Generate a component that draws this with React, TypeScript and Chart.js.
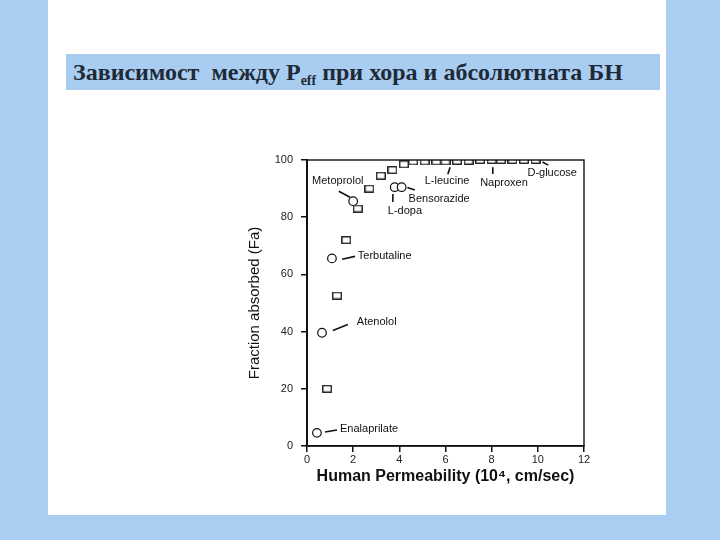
import React, { useEffect, useRef } from "react";
import { Chart, registerables } from "chart.js";

Chart.register(...registerables);

const squareX = [0.87, 1.3, 1.7, 2.2, 2.7, 3.2, 3.7, 4.2, 4.6, 5.1, 5.6, 6.0, 6.5, 7.0, 7.5, 8.0, 8.4, 8.9, 9.4, 9.9];
const squareY = [20, 52.6, 72, 83, 90, 94.5, 96.5, 98.5, 99.5, 99.5, 99.5, 99.5, 99.7, 99.7, 100, 100, 100, 100, 100, 100];
const circleX = [0.43, 0.65, 1.08, 2.0, 3.8, 4.1];
const circleY = [4.6, 39.6, 65.6, 85.6, 90.5, 90.5];

const labelText = ["Metoprolol", "L-leucine", "Naproxen", "D-glucose", "Bensorazide", "L-dopa", "Terbutaline", "Atenolol", "Enalaprilate"];
const labelX = [0.22, 5.1, 7.5, 9.55, 4.4, 3.5, 2.2, 2.16, 1.43];
const labelY = [92.6, 92.6, 91.9, 95.4, 86.3, 82.1, 66.3, 43.2, 6.0];
const leaderX1 = [1.38, 6.2, 8.05, 10.2, 4.35, 3.72, 1.52, 1.12, 0.78];
const leaderY1 = [89.1, 97.5, 97.5, 99.3, 90.4, 88.1, 65.3, 40.4, 4.9];
const leaderX2 = [1.86, 6.1, 8.05, 10.45, 4.67, 3.72, 2.08, 1.77, 1.3];
const leaderY2 = [87.0, 95.0, 95.1, 98.2, 89.5, 85.3, 66.3, 42.5, 5.6];

const xTicks = [0, 2, 4, 6, 8, 10, 12];
const yTicks = [0, 20, 40, 60, 80, 100];

const title = "Зависимост  между P";
const titleSub = "eff";
const titleRest = " при хора и абсолютната БН";
const yTitle = "Fraction absorbed (Fa)";
const xTitle = "Human Permeability (10\u2074, cm/sec)";

function makeSquare(): HTMLCanvasElement {
  const c = document.createElement("canvas");
  c.width = 10;
  c.height = 8;
  const g = c.getContext("2d")!;
  g.fillStyle = "#fff";
  g.fillRect(0, 0, 10, 8);
  g.strokeStyle = "#111";
  g.lineWidth = 1.3;
  g.strokeRect(0.75, 0.75, 8.5, 6.5);
  return c;
}

const annotationPlugin = {
  id: "annots",
  afterDatasetsDraw(chart: any) {
    const { ctx, chartArea, scales } = chart;
    const xs = scales.x;
    const ys = scales.y;
    ctx.save();
    ctx.strokeStyle = "#111";
    ctx.lineWidth = 1.4;
    ctx.strokeRect(chartArea.left, chartArea.top, chartArea.right - chartArea.left, chartArea.bottom - chartArea.top);
    ctx.lineWidth = 1.6;
    for (let i = 0; i < labelText.length; i++) {
      ctx.beginPath();
      ctx.moveTo(xs.getPixelForValue(leaderX1[i]), ys.getPixelForValue(leaderY1[i]));
      ctx.lineTo(xs.getPixelForValue(leaderX2[i]), ys.getPixelForValue(leaderY2[i]));
      ctx.stroke();
    }
    ctx.fillStyle = "#111";
    ctx.font = "11px 'Liberation Sans', Arial, sans-serif";
    ctx.textBaseline = "middle";
    ctx.textAlign = "left";
    for (let i = 0; i < labelText.length; i++) {
      ctx.fillText(labelText[i], xs.getPixelForValue(labelX[i]), ys.getPixelForValue(labelY[i]));
    }
    ctx.restore();
  },
};

export default function App() {
  const ref = useRef<HTMLCanvasElement | null>(null);
  useEffect(() => {
    if (!ref.current) return;
    const sq = makeSquare();
    const chart = new Chart(ref.current, {
      type: "scatter",
      data: {
        datasets: [
          {
            data: squareX.map((x, i) => ({ x, y: squareY[i] })),
            pointStyle: sq as any,
            pointRadius: 5,
            borderColor: "#111",
            backgroundColor: "#fff",
          },
          {
            data: circleX.map((x, i) => ({ x, y: circleY[i] })),
            pointStyle: "circle",
            pointRadius: 4.3,
            borderWidth: 1.2,
            borderColor: "#111",
            backgroundColor: "#fff",
          },
        ],
      },
      options: {
        animation: false,
        responsive: false,
        events: [],
        layout: { padding: { left: 230, right: 136, top: 160, bottom: 40 } },
        plugins: { legend: { display: false }, tooltip: { enabled: false } },
        scales: {
          x: {
            type: "linear",
            min: 0,
            max: 12,
            afterFit(scale: any) {
              scale.height = 54;
            },
            afterBuildTicks(scale: any) {
              scale.ticks = xTicks.map((v) => ({ value: v }));
            },
            grid: { drawOnChartArea: false, drawTicks: true, tickLength: 6, color: "#111", lineWidth: 1.5 },
            border: { color: "#111", width: 1.5 },
            ticks: { color: "#222", font: { family: "'Liberation Sans', Arial, sans-serif", size: 11 }, padding: 1, maxRotation: 0 },
            title: {
              display: true,
              text: xTitle,
              color: "#111",
              font: { family: "'Liberation Sans', Arial, sans-serif", size: 16, weight: "bold" },
              padding: { top: 0, bottom: 14 },
            },
          },
          y: {
            type: "linear",
            min: 0,
            max: 100,
            afterFit(scale: any) {
              scale.width = 77;
            },
            afterBuildTicks(scale: any) {
              scale.ticks = yTicks.map((v) => ({ value: v }));
            },
            grid: { drawOnChartArea: false, drawTicks: true, tickLength: 6, color: "#111", lineWidth: 1.5 },
            border: { color: "#111", width: 2 },
            ticks: { color: "#222", font: { family: "'Liberation Sans', Arial, sans-serif", size: 11 }, padding: 8 },
            title: {
              display: true,
              text: yTitle,
              color: "#111",
              font: { family: "'Liberation Sans', Arial, sans-serif", size: 15 },
              padding: { top: 16, bottom: 0 },
            },
          },
        },
      },
      plugins: [annotationPlugin],
    });
    return () => chart.destroy();
  }, []);

  return (
    <div style={{ position: "fixed", left: 0, top: 0, width: 720, height: 540, background: "#a9cef2", overflow: "hidden" }}>
      <div style={{ position: "absolute", left: 48, top: 0, width: 618, height: 515, background: "#ffffff" }} />
      <div
        style={{
          position: "absolute",
          left: 66,
          top: 54,
          width: 594,
          height: 36,
          background: "#a9cdf1",
          boxSizing: "border-box",
          paddingLeft: 7,
          fontFamily: "'Liberation Serif', 'Times New Roman', serif",
          fontWeight: "bold",
          fontSize: 24,
          lineHeight: "36px",
          color: "#1e2a38",
          whiteSpace: "pre",
        }}
      >
        {title}
        <sub style={{ fontSize: 14, verticalAlign: "-5px", lineHeight: 0 }}>{titleSub}</sub>
        {titleRest}
      </div>
      <canvas ref={ref} width={720} height={540} style={{ position: "absolute", left: 0, top: 0, width: 720, height: 540 }} />
    </div>
  );
}
